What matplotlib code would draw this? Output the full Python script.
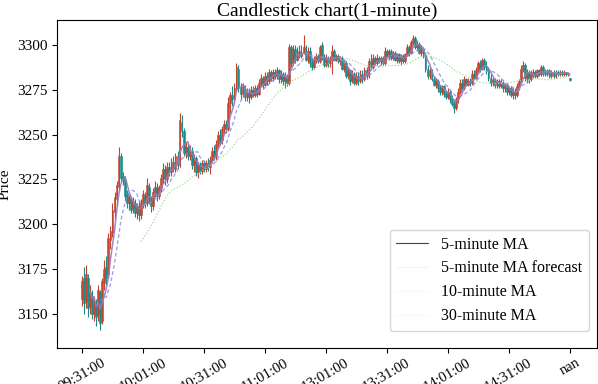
import matplotlib
matplotlib.use("Agg")
import matplotlib.pyplot as plt
from matplotlib.lines import Line2D
import numpy as np
import pandas as pd

plt.rcParams['font.family'] = ['Liberation Serif', 'DejaVu Serif']

open_ = [
3158,3170,3157,3170,3154,3160,3150,3156,3149,3162,
3146,3167,3176,3172,3191,3195,3207,3214,3221,3238,
3227,3225,3217,3212,3214,3209,3212,3206,3210,3205,
3212,3216,3212,3221,3214,3210,3218,3221,3216,3220,
3226,3231,3225,3232,3229,3235,3231,3238,3233,3257,
3252,3240,3243,3238,3241,3233,3237,3229,3233,3230,
3234,3231,3234,3232,3236,3241,3238,3245,3250,3247,
3253,3256,3253,3268,3272,3270,3276,3287,3276,3273,
3277,3271,3274,3271,3275,3272,3276,3273,3279,3282,
3278,3283,3280,3285,3282,3285,3283,3286,3281,3284,
3280,3283,3279,3299,3290,3298,3292,3297,3294,3296,
3299,3292,3297,3290,3288,3292,3294,3291,3300,3293,
3289,3293,3290,3292,3297,3292,3294,3291,3293,3287,
3290,3283,3286,3280,3284,3279,3283,3280,3284,3281,
3286,3283,3291,3288,3293,3290,3293,3291,3293,3290,
3297,3294,3297,3293,3296,3292,3295,3291,3294,3291,
3295,3299,3296,3302,3304,3299,3301,3296,3298,3294,
3287,3283,3286,3281,3278,3280,3276,3274,3277,3273,
3271,3274,3270,3267,3265,3270,3274,3279,3276,3281,
3278,3280,3279,3284,3282,3286,3290,3287,3292,3288,
3286,3282,3279,3281,3278,3280,3277,3279,3276,3278,
3274,3276,3272,3274,3272,3277,3280,3287,3289,3282,
3285,3281,3284,3285,3283,3286,3284,3288,3285,3284,
3286,3283,3285,3283,3285,3284,3285,3284,3285,3284,
3282]
close = [
3168,3156,3172,3153,3162,3150,3157,3148,3163,3145,
3168,3175,3170,3192,3196,3208,3215,3222,3238,3226,
3225,3216,3212,3215,3208,3213,3206,3210,3205,3212,
3217,3212,3222,3214,3210,3218,3221,3216,3220,3226,
3231,3225,3232,3229,3235,3231,3238,3233,3258,3252,
3240,3243,3238,3241,3233,3237,3229,3233,3230,3234,
3231,3234,3232,3236,3241,3238,3245,3250,3247,3253,
3256,3253,3268,3272,3270,3276,3288,3276,3273,3277,
3271,3274,3271,3275,3272,3276,3273,3279,3282,3278,
3283,3280,3285,3282,3285,3283,3286,3281,3284,3280,
3283,3279,3299,3290,3298,3292,3297,3294,3296,3299,
3292,3297,3290,3288,3292,3294,3291,3299,3293,3289,
3293,3290,3292,3297,3292,3294,3291,3293,3287,3290,
3283,3286,3280,3284,3279,3283,3280,3284,3281,3286,
3283,3291,3288,3293,3290,3293,3291,3293,3290,3297,
3294,3297,3293,3296,3292,3295,3291,3294,3291,3295,
3299,3296,3302,3304,3299,3301,3296,3298,3294,3287,
3283,3286,3281,3278,3280,3276,3274,3277,3273,3271,
3274,3270,3267,3265,3270,3274,3279,3276,3281,3278,
3280,3279,3284,3282,3286,3290,3287,3292,3288,3286,
3282,3279,3281,3278,3280,3277,3279,3276,3278,3274,
3276,3272,3274,3272,3277,3280,3287,3289,3282,3285,
3281,3284,3285,3283,3286,3284,3288,3285,3284,3286,
3283,3285,3283,3285,3284,3285,3284,3285,3284,3284.5,
3280.5]
high = [
3171,3176,3177,3172,3166,3163,3160,3158,3166,3163,
3170,3180,3182,3195,3199,3212,3218,3224,3243,3240,
3229,3227,3219,3217,3216,3215,3214,3212,3213,3214,
3219,3218,3226,3223,3216,3220,3224,3223,3222,3228,
3234,3233,3235,3235,3237,3238,3240,3241,3262,3261,
3254,3246,3245,3244,3243,3239,3238,3235,3235,3236,
3236,3236,3237,3238,3243,3244,3247,3252,3253,3255,
3258,3258,3271,3274,3277,3279,3290,3289,3279,3279,
3278,3276,3276,3277,3277,3278,3278,3281,3284,3283,
3285,3285,3287,3286,3287,3287,3288,3287,3286,3285,
3285,3284,3301,3300,3300,3300,3299,3300,3300,3306,
3300,3299,3299,3293,3294,3296,3295,3300,3302,3295,
3295,3294,3294,3300,3298,3295,3295,3294,3294,3292,
3291,3288,3287,3286,3285,3285,3285,3286,3286,3288,
3288,3293,3295,3295,3294,3295,3294,3294,3294,3299,
3298,3298,3298,3297,3297,3296,3296,3295,3295,3296,
3301,3300,3303,3306,3305,3303,3302,3300,3299,3295,
3289,3288,3287,3283,3282,3281,3278,3278,3278,3275,
3276,3275,3272,3269,3271,3276,3281,3281,3283,3282,
3282,3282,3286,3286,3288,3291,3292,3293,3293,3291,
3288,3284,3282,3282,3281,3281,3281,3280,3279,3279,
3277,3277,3276,3276,3279,3281,3289,3291,3290,3287,
3286,3286,3287,3286,3287,3287,3289,3289,3287,3287,
3287,3286,3286,3286,3286,3286,3286,3286,3285,3285,
3282]
low = [
3154,3150,3153,3148,3150,3147,3146,3143,3146,3141,
3144,3163,3166,3170,3186,3193,3203,3210,3219,3224,
3222,3213,3209,3208,3206,3206,3204,3203,3202,3203,
3209,3209,3210,3211,3207,3208,3215,3213,3214,3218,
3223,3222,3223,3227,3227,3229,3229,3231,3232,3249,
3238,3237,3236,3236,3231,3229,3227,3226,3228,3228,
3229,3229,3230,3228,3234,3236,3236,3243,3245,3245,
3251,3251,3252,3262,3266,3268,3275,3274,3270,3271,
3269,3269,3268,3270,3271,3271,3271,3272,3277,3276,
3277,3278,3279,3280,3280,3281,3281,3279,3279,3278,
3276,3277,3278,3288,3289,3290,3291,3293,3293,3295,
3291,3290,3288,3286,3287,3290,3290,3290,3292,3288,
3288,3288,3288,3284,3291,3291,3290,3289,3286,3285,
3282,3281,3278,3279,3278,3278,3278,3279,3279,3280,
3281,3282,3286,3287,3289,3289,3290,3289,3289,3289,
3293,3292,3292,3292,3291,3290,3290,3289,3290,3290,
3294,3294,3295,3300,3298,3297,3295,3294,3293,3285,
3281,3281,3280,3277,3276,3274,3272,3272,3271,3270,
3270,3268,3266,3262,3264,3268,3273,3275,3275,3277,
3277,3277,3278,3281,3281,3284,3285,3286,3286,3284,
3280,3277,3277,3276,3276,3276,3276,3274,3274,3272,
3272,3271,3270,3270,3271,3275,3279,3285,3280,3279,
3279,3280,3282,3282,3282,3283,3283,3283,3283,3283,
3282,3282,3282,3282,3283,3283,3283,3283,3283,3283,
3280]

tick_labels = ['09:31:00', '10:01:00', '10:31:00', '11:01:00', '13:01:00',
               '13:31:00', '14:01:00', '14:31:00', 'nan']
tick_step = 30

title = 'Candlestick chart(1-minute)'
ylabel = 'Price'
legend_labels = ['5-minute MA', '5-minute MA forecast', '10-minute MA', '30-minute MA']

up_color = '#c4452f'
down_color = '#188c86'

df = pd.DataFrame({'open': open_, 'high': high, 'low': low, 'close': close})
x = np.arange(len(df))
ma5 = df['close'].rolling(5).mean()
ma10 = df['close'].rolling(10).mean()
ma30 = df['close'].rolling(30).mean()

fig = plt.figure(figsize=(5.98, 3.84), dpi=100)
ax = fig.add_axes([0.0953, 0.094, 0.9027, 0.854])

colors = [up_color if c >= o else down_color for o, c in zip(df['open'], df['close'])]
ax.vlines(x, df['low'], df['high'], colors=colors, linewidth=0.8, zorder=2)
body_bottom = np.minimum(df['open'], df['close'])
body_height = np.abs(df['close'] - df['open'])
body_height = np.where(body_height < 0.5, 0.5, body_height)
ax.bar(x, body_height, bottom=body_bottom, width=0.9, color=colors,
       edgecolor=colors, linewidth=0.4, zorder=3)

ax.plot(x, ma5, color='#9a78c8', linewidth=1.1, alpha=0.9, zorder=4)
ax.plot(x, ma10, color='#7f8fd6', linewidth=0.9, linestyle=(0, (3, 2)), alpha=0.85, zorder=4)
ax.plot(x, ma30, color='#9fd896', linewidth=0.9, linestyle=(0, (1, 1.5)), alpha=0.95, zorder=4)

ax.set_xlim(-12.3, 253.3)
ax.set_ylim(3130.8, 3314.2)
ax.set_yticks([3150, 3175, 3200, 3225, 3250, 3275, 3300])
ax.set_xticks(np.arange(0, tick_step * len(tick_labels), tick_step))
ax.set_xticklabels(tick_labels, rotation=30, fontsize=10.5)
ax.tick_params(axis='y', labelsize=11)
ax.tick_params(axis='x', pad=2.5)
ax.set_title(title, fontsize=14, pad=3)
ax.set_ylabel(ylabel, fontsize=11, labelpad=4)

handles = [Line2D([], [], color='#444444', linewidth=0.8),
           Line2D([], [], color='#f4f4f4', linewidth=0.8),
           Line2D([], [], color='#f8f8f8', linewidth=0.8),
           Line2D([], [], color='#f8f8f8', linewidth=0.8)]
ax.legend(handles, legend_labels, loc='lower right', fontsize=11.5, handlelength=2.0,
          labelspacing=0.5, bbox_to_anchor=(0.985, 0.052), borderaxespad=0)

fig.savefig('out.png', dpi=100)
